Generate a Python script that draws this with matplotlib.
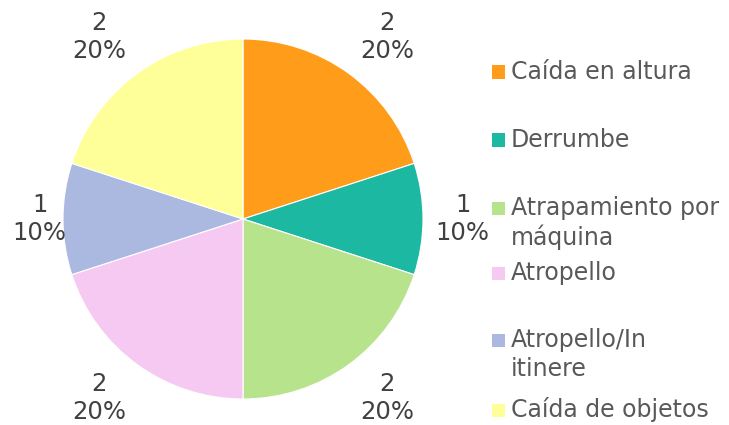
import numpy as np
import matplotlib
matplotlib.use("Agg")
import matplotlib.pyplot as plt
from matplotlib.patches import Rectangle

categories = ["Caída en altura", "Derrumbe", "Atrapamiento por\nmáquina",
              "Atropello", "Atropello/In\nitinere", "Caída de objetos"]
values = [2, 1, 2, 2, 1, 2]
colors = ["#FF9C1A", "#1DB8A1", "#B6E38B", "#F5C9F1", "#ABB9E1", "#FFFF9A"]

W, H = 729, 425
fig = plt.figure(figsize=(W / 100, H / 100), dpi=100)

# pie axes: centre (243, 219) px, radius 180 px
cx, cy, r = 243, 219, 180
ax = fig.add_axes([(cx - r) / W, (H - cy - r) / H, 2 * r / W, 2 * r / H])

wedges, _ = ax.pie(values, colors=colors, startangle=90, counterclock=False,
                   radius=1, wedgeprops=dict(edgecolor="white", linewidth=0.8))
ax.set_xlim(-1, 1)
ax.set_ylim(-1, 1)
ax.axis("off")

total = sum(values)
# label offsets (horizontal, vertical scale) per slice
dx = [1.36, 1.22, 1.36, 1.36, 1.13, 1.36]
dy = [1.25, 1.22, 1.23, 1.23, 1.13, 1.25]
for w, v, sx, sy in zip(wedges, values, dx, dy):
    ang = np.deg2rad((w.theta1 + w.theta2) / 2)
    ax.text(sx * np.cos(ang), sy * np.sin(ang), f"{v}\n{round(100 * v / total)}%",
            ha="center", va="center", fontsize=17.5, color="#404040",
            clip_on=False)

# legend drawn by hand
leg_y = [72, 140, 208, 273, 340, 410]
line_h = 29
for lab, col, y in zip(categories, colors, leg_y):
    fig.patches.append(Rectangle(((492) / W, (H - y - 6.5) / H), 13 / W, 13 / H,
                                 transform=fig.transFigure, facecolor=col,
                                 edgecolor="none"))
    for i, line in enumerate(lab.split("\n")):
        fig.text(511 / W, (H - y - i * line_h) / H, line, ha="left",
                 va="center", fontsize=17, color="#595959")

fig.savefig("out.png", dpi=100)
